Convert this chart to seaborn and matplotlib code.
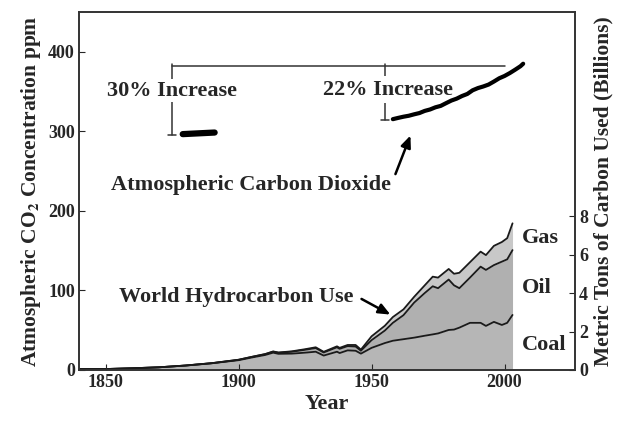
import matplotlib
matplotlib.use("Agg")
import matplotlib.pyplot as plt
import seaborn as sns
import pandas as pd

# =========================
# DATA
# =========================

# world hydrocarbon use, billions of metric tons of carbon (per fuel)
years = [1840, 1850, 1860, 1870, 1880, 1890, 1900, 1905, 1910, 1913, 1915,
         1920, 1925, 1929, 1932, 1937, 1938, 1941, 1944, 1946, 1950, 1955,
         1958, 1962, 1966, 1970, 1973, 1975, 1979, 1981, 1983, 1987, 1991,
         1993, 1996, 1999, 2001, 2003]
coal = [0.05, 0.05, 0.09, 0.14, 0.23, 0.35, 0.51, 0.65, 0.78, 0.90, 0.84,
        0.85, 0.90, 0.95, 0.75, 0.95, 0.88, 1.02, 1.00, 0.85, 1.15, 1.40,
        1.52, 1.60, 1.68, 1.78, 1.85, 1.90, 2.08, 2.10, 2.20, 2.45, 2.45,
        2.29, 2.50, 2.34, 2.45, 2.86]
oil = [0.0, 0.0, 0.0, 0.0, 0.003, 0.006, 0.02, 0.03, 0.04, 0.05, 0.055,
       0.10, 0.15, 0.19, 0.16, 0.23, 0.22, 0.22, 0.22, 0.15, 0.40, 0.65,
       0.93, 1.25, 1.82, 2.22, 2.50, 2.35, 2.62, 2.30, 2.05, 2.35, 2.92,
       2.91, 2.95, 3.29, 3.30, 3.37]
gas = [0.0, 0.0, 0.0, 0.0, 0.0, 0.0, 0.003, 0.005, 0.01, 0.015, 0.015,
       0.02, 0.03, 0.04, 0.035, 0.05, 0.05, 0.06, 0.08, 0.06, 0.20, 0.25,
       0.30, 0.30, 0.30, 0.40, 0.50, 0.55, 0.55, 0.60, 0.80, 0.80, 0.78,
       0.77, 1.00, 1.02, 1.10, 1.39]

# atmospheric CO2, ppm
co2_early_years = [1879, 1882, 1885, 1888, 1891]
co2_early = [296.5, 297.0, 297.5, 298.0, 298.5]

co2_years = [1958, 1960, 1962, 1964, 1966, 1968, 1970, 1972, 1974, 1976,
             1978, 1980, 1982, 1984, 1986, 1988, 1990, 1992, 1994, 1996,
             1998, 2000, 2002, 2004, 2006, 2007]
co2_ml = [315.3, 316.9, 318.4, 319.6, 321.4, 323.0, 325.7, 327.5, 330.2,
          332.0, 335.4, 338.7, 341.1, 344.4, 347.0, 351.6, 354.4, 356.4,
          358.8, 362.6, 366.7, 369.6, 373.3, 377.5, 381.9, 385.0]

# bracket levels
top_ppm = 382
low_30 = 296
low_22 = 314

df_fuel = pd.DataFrame({"year": years, "coal": coal, "oil": oil, "gas": gas})
df_fuel["coal_oil"] = df_fuel["coal"] + df_fuel["oil"]
df_fuel["total"] = df_fuel["coal_oil"] + df_fuel["gas"]

# =========================
# STYLE
# =========================

sns.set_style("ticks")
plt.rcParams["font.family"] = ["Liberation Serif", "DejaVu Serif"]
plt.rcParams["font.weight"] = "bold"
plt.rcParams["mathtext.fontset"] = "stix"
plt.rcParams["axes.linewidth"] = 1.2

fig = plt.figure(figsize=(6.23, 4.23), dpi=100)
ax = fig.add_axes([0.1268, 0.1253, 0.7962, 0.8463])
ax2 = ax.twinx()

# =========================
# HYDROCARBON STACK (right axis)
# =========================

ax2.stackplot(df_fuel["year"], df_fuel["coal"], df_fuel["oil"], df_fuel["gas"],
              colors=["#b6b6b6", "#b0b0b0", "#c8c8c8"], linewidth=0)
for col in ["coal", "coal_oil", "total"]:
    sns.lineplot(x=df_fuel["year"], y=df_fuel[col], ax=ax2,
                 color="#1a1a1a", linewidth=1.3)

ax2.set_ylim(0, 18.6)
ax2.set_yticks([0, 2, 4, 6, 8])
ax2.tick_params(axis="y", direction="in", length=4, labelsize=13, pad=3)
ax2.set_ylabel("Metric Tons of Carbon Used (Billions)", fontsize=15.5,
               fontweight="bold", labelpad=4)

ax2.text(2006.5, 6.86, "Gas", fontsize=16, va="center", ha="left")
ax2.text(2006.5, 4.26, "Oil", fontsize=16, va="center", ha="left")
ax2.text(2006.5, 1.30, "Coal", fontsize=16, va="center", ha="left")

# =========================
# CO2 (left axis)
# =========================

ax.set_zorder(ax2.get_zorder() + 1)
ax.patch.set_visible(False)

sns.lineplot(x=co2_early_years, y=co2_early, ax=ax, color="black",
             linewidth=4.5, solid_capstyle="round")
sns.lineplot(x=co2_years, y=co2_ml, ax=ax, color="black", linewidth=3)

# brackets
ax.plot([1875, 2000], [top_ppm, top_ppm], color="#333333", linewidth=1.1)
for bx, low in [(1875, low_30), (1955, low_22)]:
    ax.plot([bx, bx], [top_ppm + 3, low], color="#333333", linewidth=1.1,
            zorder=1)
    ax.plot([bx - 1.5, bx + 1.5], [low, low], color="#333333", linewidth=1.1)
ax.text(1875, 351, "30% Increase", fontsize=16, ha="center", va="center",
        bbox=dict(facecolor="white", edgecolor="none", pad=1), zorder=3)
ax.text(1956, 352, "22% Increase", fontsize=16, ha="center", va="center",
        zorder=3)
ax.add_patch(plt.Rectangle((1950, 336), 12, 34, facecolor="white",
                           edgecolor="none", zorder=2))

ax.text(1904.5, 233, "Atmospheric Carbon Dioxide", fontsize=16,
        ha="center", va="center")
ax.annotate("", xy=(1965, 298), xytext=(1958.6, 243),
            arrowprops=dict(arrowstyle="-|>,head_length=0.7,head_width=0.3",
                            color="black", linewidth=1.8))

ax.text(1899, 92, "World Hydrocarbon Use", fontsize=16,
        ha="center", va="center")
ax.annotate("", xy=(1958, 68), xytext=(1945.3, 91),
            arrowprops=dict(arrowstyle="-|>,head_length=0.7,head_width=0.3",
                            color="black", linewidth=1.8))

ax.set_xlim(1840, 2026.5)
ax.set_ylim(0, 450)
ax.set_xticks([1850, 1900, 1950, 2000])
ax.set_yticks([0, 100, 200, 300, 400])
ax.tick_params(axis="both", direction="in", length=4, labelsize=13, pad=3)
ax.set_xlabel("Year", fontsize=16, fontweight="bold", labelpad=2)
ax.set_ylabel(r"Atmospheric CO$_\mathbf{2}$ Concentration ppm", fontsize=15.5,
              fontweight="bold", labelpad=4)

for a in (ax, ax2):
    for s in a.spines.values():
        s.set_color("#333333")
        s.set_visible(True)

fig.savefig("out.png", dpi=100)
